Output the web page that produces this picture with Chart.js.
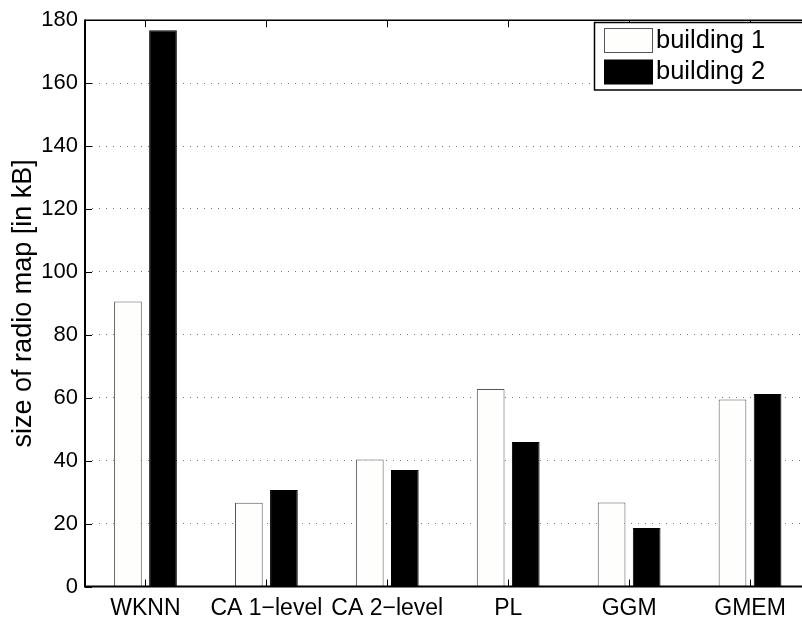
<!DOCTYPE html>
<html>
<head>
<meta charset="utf-8">
<script src="https://cdn.jsdelivr.net/npm/chart.js@4.4.1/dist/chart.umd.min.js"></script>
<style>
    html, body { margin: 0; padding: 0; overflow: hidden; background: #fff; width: 802px; height: 619px; }
    #mycanvas { position: absolute; left: 0; top: 0; }
</style>
</head>
<body>
<canvas id="mycanvas" width="830" height="619"></canvas>
<script>
// chart data
var methods = ["WKNN", "CA 1\u2212level", "CA 2\u2212level", "PL", "GGM", "GMEM"];
var building1 = [90.6, 26.6, 40.4, 62.8, 26.7, 59.4];
var building2 = [176.8, 30.7, 37.0, 45.9, 18.6, 61.2];
var seriesNames = ["building 1", "building 2"];
var yTicks = [0, 20, 40, 60, 80, 100, 120, 140, 160, 180];

var FONT = "'Liberation Sans', Arial, Helvetica, sans-serif";

// axis box, inward ticks and legend (matlab style)
var matlabBox = {
    id: "matlabBox",
    afterDraw: function (chart) {
        var ctx = chart.ctx;
        var a = chart.chartArea;
        var x = chart.scales.x;
        var y = chart.scales.y;
        ctx.save();
        ctx.strokeStyle = "#000";

        // tick marks
        ctx.lineWidth = 1;
        for (var i = 0; i < yTicks.length; i++) {
            var py = Math.round(y.getPixelForValue(yTicks[i])) + 0.5;
            ctx.beginPath();
            ctx.moveTo(a.left, py); ctx.lineTo(a.left + 7, py);
            ctx.moveTo(a.right, py); ctx.lineTo(a.right - 7, py);
            ctx.stroke();
        }
        for (var j = 0; j < methods.length; j++) {
            var px = Math.round(x.getPixelForValue(j)) + 0.5;
            ctx.beginPath();
            ctx.moveTo(px, a.bottom); ctx.lineTo(px, a.bottom - 7);
            ctx.moveTo(px, a.top); ctx.lineTo(px, a.top + 7);
            ctx.stroke();
        }

        // box
        ctx.lineWidth = 1.5;
        ctx.beginPath();
        ctx.moveTo(a.left, a.top); ctx.lineTo(a.right, a.top);
        ctx.moveTo(a.right, a.top); ctx.lineTo(a.right, a.bottom);
        ctx.stroke();
        ctx.lineWidth = 2;
        ctx.beginPath();
        ctx.moveTo(a.left, a.top - 0.75); ctx.lineTo(a.left, a.bottom);
        ctx.lineTo(a.right, a.bottom);
        ctx.stroke();

        // legend
        var lx = 594.5, ly = 22.5, lw = 220, lh = 67.5;
        ctx.fillStyle = "#fff";
        ctx.fillRect(lx, ly, lw, lh);
        ctx.lineWidth = 1.5;
        ctx.strokeRect(lx, ly, lw, lh);
        var ds = chart.data.datasets;
        var rows = [28.5, 60];
        ctx.font = "25.5px " + FONT;
        ctx.textBaseline = "middle";
        for (var k = 0; k < ds.length; k++) {
            ctx.fillStyle = ds[k].backgroundColor;
            ctx.fillRect(604.5, rows[k], 48, 24);
            ctx.lineWidth = 1;
            ctx.strokeStyle = ds[k].borderColor;
            ctx.strokeRect(604.5, rows[k], 48, 24);
            ctx.fillStyle = "#000";
            ctx.fillText(ds[k].label, 656, rows[k] + 12);
        }
        ctx.restore();
    }
};

var ctx = document.getElementById("mycanvas").getContext("2d");

var chartdata = {
    labels: methods,
    datasets: [
        {
            label: seriesNames[0],
            backgroundColor: "#fefefc",
            borderColor: "#555",
            borderWidth: 1,
            data: building1
        },
        {
            label: seriesNames[1],
            backgroundColor: "#000",
            borderColor: "#000",
            borderWidth: 1,
            data: building2
        }
    ]
};

var barGraph = new Chart(ctx, {
    type: "bar",
    data: chartdata,
    plugins: [matlabBox],
    options: {
        responsive: false,
        animation: false,
        categoryPercentage: 0.58,
        barPercentage: 0.79,
        layout: { padding: { top: 14, right: 19.5, left: 0, bottom: 0 } },
        plugins: {
            legend: { display: false },
            tooltip: { enabled: false }
        },
        scales: {
            x: {
                offset: true,
                grid: { display: false, drawTicks: false },
                border: { display: false },
                ticks: {
                    color: "#000",
                    padding: 8,
                    maxRotation: 0,
                    autoSkip: false,
                    font: { family: FONT, size: 23 }
                },
                afterFit: function (scale) { scale.height = 32.5; }
            },
            y: {
                min: 0,
                max: 180,
                grid: {
                    drawTicks: false,
                    color: function (c) {
                        return (c.tick && (c.tick.value === 0 || c.tick.value === 180)) ? "rgba(0,0,0,0)" : "#777";
                    },
                    lineWidth: 1
                },
                border: { display: false, dash: [1, 6] },
                ticks: {
                    stepSize: 20,
                    color: "#000",
                    padding: 7,
                    font: { family: FONT, size: 22 }
                },
                title: {
                    display: true,
                    text: "size of radio map [in kB]",
                    color: "#000",
                    padding: { top: 7, bottom: 0 },
                    font: { family: FONT, size: 27 }
                },
                afterFit: function (scale) { scale.width = 85; }
            }
        }
    }
});
</script>
</body>
</html>
